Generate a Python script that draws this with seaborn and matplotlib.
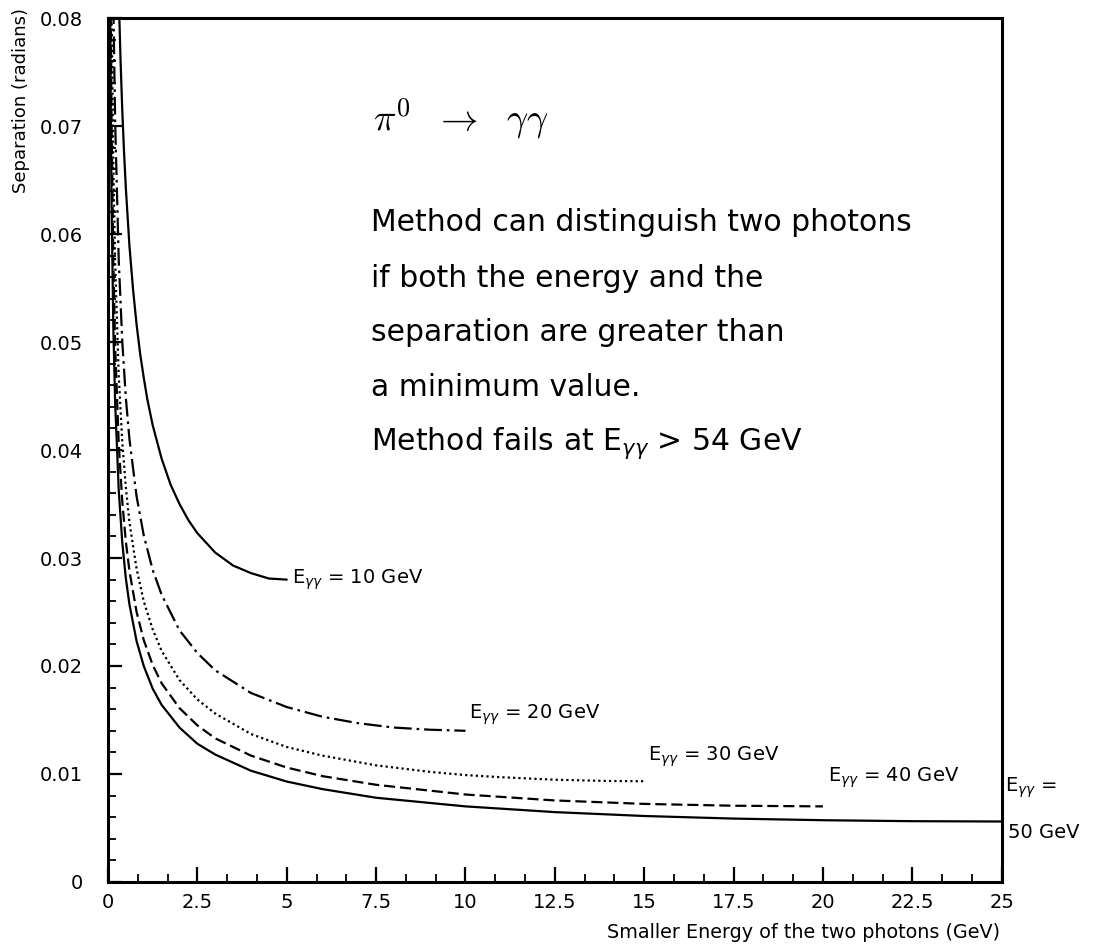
import numpy as np
import pandas as pd
import matplotlib
matplotlib.use("Agg")
import matplotlib.pyplot as plt
from matplotlib.ticker import MultipleLocator, FuncFormatter
import seaborn as sns

# Opening angle of the two photons from pi0 -> gamma gamma,
# versus the smaller photon energy, for several pi0 energies.
e10_x = [0.3, 0.35, 0.4, 0.45, 0.5, 0.6, 0.7, 0.8, 0.9, 1.0, 1.1, 1.25, 1.5, 1.75, 2.0,
         2.25, 2.5, 2.75, 3.0, 3.5, 4.0, 4.5, 5.0]
e10_y = [0.0821, 0.0762, 0.0714, 0.0675, 0.0642, 0.0589, 0.0549, 0.0516, 0.0489, 0.0467,
         0.0447, 0.0423, 0.0392, 0.0368, 0.0350, 0.0335, 0.0323, 0.0314, 0.0305, 0.0293,
         0.0286, 0.0281, 0.0280]

e20_x = [0.15, 0.2, 0.3, 0.4, 0.5, 0.6, 0.8, 1.0, 1.25, 1.5, 2.0, 2.5, 3.0, 4.0, 5.0, 6.0,
         7.0, 8.0, 9.0, 10.0]
e20_y = [0.0811, 0.0704, 0.0576, 0.0500, 0.0448, 0.0410, 0.0357, 0.0321, 0.0289, 0.0266,
         0.0233, 0.0212, 0.0196, 0.0175, 0.0162, 0.0153, 0.0147, 0.0143, 0.0141, 0.0140]

e30_x = [0.1, 0.15, 0.2, 0.3, 0.4, 0.5, 0.6, 0.8, 1.0, 1.25, 1.5, 2.0, 2.5, 3.0, 4.0, 5.0,
         6.0, 7.5, 9.0, 10.0, 11.0, 12.5, 14.0, 15.0]
e30_y = [0.0810, 0.0662, 0.0573, 0.0469, 0.0407, 0.0365, 0.0333, 0.0290, 0.0260, 0.0234,
         0.0214, 0.0187, 0.0169, 0.0156, 0.0137, 0.0125, 0.0117, 0.0108, 0.0102, 0.0099,
         0.0097, 0.00947, 0.00935, 0.00933]

e40_x = [0.07, 0.1, 0.15, 0.2, 0.3, 0.4, 0.5, 0.6, 0.8, 1.0, 1.25, 1.5, 2.0, 2.5, 3.0, 4.0,
         5.0, 6.0, 7.5, 10.0, 12.5, 15.0, 17.5, 20.0]
e40_y = [0.0837, 0.0701, 0.0573, 0.0496, 0.0406, 0.0352, 0.0315, 0.0288, 0.0250, 0.0224,
         0.0201, 0.0184, 0.0161, 0.0145, 0.0133, 0.0117, 0.0106, 0.0098, 0.0090, 0.0081,
         0.00755, 0.00723, 0.00706, 0.0070]

e50_x = [0.06, 0.08, 0.1, 0.15, 0.2, 0.3, 0.4, 0.5, 0.6, 0.8, 1.0, 1.25, 1.5, 2.0, 2.5, 3.0,
         4.0, 5.0, 6.0, 7.5, 10.0, 12.5, 15.0, 17.5, 20.0, 22.5, 25.0]
e50_y = [0.0809, 0.0701, 0.0627, 0.0512, 0.0444, 0.0363, 0.0314, 0.0281, 0.0257, 0.0223,
         0.0200, 0.0179, 0.0164, 0.0143, 0.0128, 0.0118, 0.0103, 0.0093, 0.0086, 0.0078,
         0.0070, 0.00647, 0.00611, 0.00587, 0.00572, 0.00563, 0.0056]

totals = [10, 20, 30, 40, 50]
series_x = [e10_x, e20_x, e30_x, e40_x, e50_x]
series_y = [e10_y, e20_y, e30_y, e40_y, e50_y]

x_ticks = [0, 2.5, 5, 7.5, 10, 12.5, 15, 17.5, 20, 22.5, 25]
y_ticks = [0, 0.01, 0.02, 0.03, 0.04, 0.05, 0.06, 0.07, 0.08]

frames = []
for tot, xs, ys in zip(totals, series_x, series_y):
    frames.append(pd.DataFrame({"emin": xs, "sep": ys, "total": str(tot)}))
df = pd.concat(frames, ignore_index=True)

sns.set_style("ticks")
plt.rcParams["font.family"] = ["DejaVu Sans"]
plt.rcParams["mathtext.fontset"] = "dejavusans"
plt.rcParams["text.color"] = "black"

fig = plt.figure(figsize=(11.02, 9.5), dpi=100)
ax = fig.add_axes([0.098, 0.0716, 0.811, 0.9094])

line_dashes = {"10": "", "20": (8, 2.2, 1.2, 2.2), "30": (1, 1.4), "40": (5, 2.2), "50": ""}
sns.lineplot(data=df, x="emin", y="sep", hue="total", style="total",
             palette={k: "black" for k in line_dashes}, dashes=line_dashes,
             estimator=None, legend=False, linewidth=1.6, ax=ax)

ax.set_xlim(0, 25)
ax.set_ylim(0, 0.08)
ax.set_xticks(x_ticks)
ax.set_yticks(y_ticks)
fmt = FuncFormatter(lambda v, p: f"{v:g}")
ax.xaxis.set_major_formatter(fmt)
ax.yaxis.set_major_formatter(fmt)
ax.xaxis.set_minor_locator(MultipleLocator(2.5 / 3))
ax.yaxis.set_minor_locator(MultipleLocator(0.002))
ax.tick_params(which="both", direction="in", top=False, right=False, colors="black",
               labelsize=14)
ax.tick_params(axis="y", which="major", length=10, width=1.6, pad=18)
ax.tick_params(axis="y", which="minor", length=6, width=1.3)
ax.tick_params(axis="x", which="major", length=11, width=1.6, pad=8)
ax.tick_params(axis="x", which="minor", length=6, width=1.3)
for sp in ax.spines.values():
    sp.set_linewidth(2.2)
    sp.set_color("black")

ax.set_xlabel("")
ax.set_ylabel("")
fig.text(0.908, 0.018, "Smaller Energy of the two photons (GeV)", ha="right", va="center",
         fontsize=13.8)
fig.text(0.019, 0.992, "Separation (radians)", rotation=90, ha="center", va="top",
         fontsize=13)

ax.text(7.4, 0.0707, r"$\pi^0\ \ \rightarrow\ \ \gamma\gamma$", fontsize=27, va="center",
        ha="left", math_fontfamily="cm")

notes = ["Method can distinguish two photons",
         "if both the energy and the",
         "separation are greater than",
         "a minimum value.",
         r"Method fails at E$_{\gamma\gamma}$ > 54 GeV"]
note_y = [0.0611, 0.0559, 0.0509, 0.0458, 0.0406]
for s, yy in zip(notes, note_y):
    ax.text(7.35, yy, s, fontsize=21.5, va="center", ha="left")

labels = [r"E$_{\gamma\gamma}$ = 10 GeV", r"E$_{\gamma\gamma}$ = 20 GeV",
          r"E$_{\gamma\gamma}$ = 30 GeV", r"E$_{\gamma\gamma}$ = 40 GeV",
          r"E$_{\gamma\gamma}$ ="]
label_xy = [(5.14, 0.0280), (10.11, 0.01546), (15.11, 0.01157), (20.14, 0.00963),
            (25.08, 0.0087)]
for s, (lx, ly) in zip(labels, label_xy):
    ax.text(lx, ly, s, fontsize=14, va="center", ha="left", clip_on=False)
ax.text(25.17, 0.00454, "50 GeV", fontsize=14, va="center", ha="left", clip_on=False)

fig.savefig("out.png", dpi=100, facecolor="white")
